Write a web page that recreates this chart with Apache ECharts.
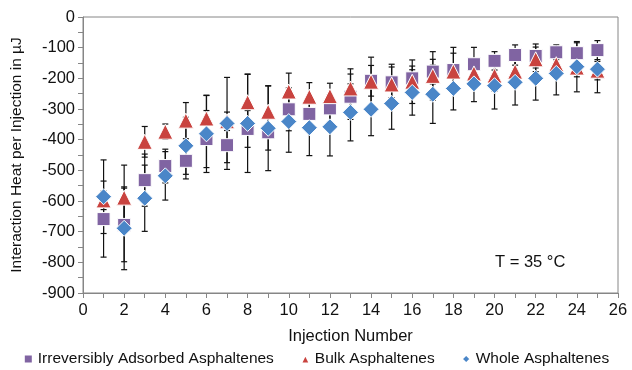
<!DOCTYPE html>
<html>
<head>
<meta charset="utf-8">
<script src="https://cdn.jsdelivr.net/npm/echarts@6/dist/echarts.min.js"></script>
<style>
  html, body { margin: 0; padding: 0; background: #fff; }
  #chart { width: 632px; height: 370px; }
</style>
</head>
<body>
<div id="chart"></div>
<script>
// injection numbers
const injections = [1, 2, 3, 4, 5, 6, 7, 8, 9, 10, 11, 12, 13, 14, 15, 16, 17, 18, 19, 20, 21, 22, 23, 24, 25];

// heat per injection, µJ
const irreversible = [-659, -678, -532, -486, -469, -398, -418, -365, -376, -301, -316, -298, -260, -208, -213, -200, -178, -173, -154, -143, -124, -127, -115, -118, -108];
const bulk = [-598, -589, -407, -374, -338, -331, -340, -278, -309, -243, -260, -258, -233, -211, -220, -211, -192, -178, -184, -191, -178, -138, -154, -165, -175];
const whole = [-586, -689, -591, -518, -420, -381, -347, -347, -363, -341, -361, -358, -311, -301, -282, -246, -252, -233, -218, -224, -213, -200, -184, -162, -170];

// error bar half widths
const irreversibleErr = [124, 120, 85, 55, 59, 93, 57, 60, 58, 70, 50, 45, 74, 50, 50, 40, 40, 74, 55, 30, 33, 39, 24, 34, 31];
const bulkErr = [30, 106, 50, 25, 59, 75, 30, 92, 85, 60, 46, 42, 64, 80, 66, 71, 79, 60, 40, 50, 40, 40, 40, 30, 30];
const wholeErr = [120, 135, 108, 79, 93, 126, 150, 160, 138, 100, 91, 95, 93, 86, 84, 74, 95, 70, 58, 76, 74, 71, 70, 82, 77];

const xTicks = [0, 2, 4, 6, 8, 10, 12, 14, 16, 18, 20, 22, 24, 26];
const yTicks = [0, -100, -200, -300, -400, -500, -600, -700, -800, -900];

const FONT = '"Liberation Sans", Arial, sans-serif';
const AXIS_GREY = '#868686';

function points(values) {
    return injections.map((x, i) => [x, values[i]]);
}

function errorData(values, errs) {
    return injections.map((x, i) => [x, values[i] - errs[i], values[i] + errs[i]]);
}

function errorSeries(values, errs) {
    return {
        type: 'custom',
        silent: true,
        z: 1,
        data: errorData(values, errs),
        renderItem: (params, api) => {
            const top = api.coord([api.value(0), api.value(2)]);
            const bottom = api.coord([api.value(0), api.value(1)]);
            const cap = 3;
            const style = { stroke: '#111', lineWidth: 1.2 };
            return {
                type: 'group',
                children: [
                    { type: 'line', shape: { x1: top[0], y1: top[1], x2: bottom[0], y2: bottom[1] }, style },
                    { type: 'line', shape: { x1: top[0] - cap, y1: top[1], x2: top[0] + cap, y2: top[1] }, style },
                    { type: 'line', shape: { x1: bottom[0] - cap, y1: bottom[1], x2: bottom[0] + cap, y2: bottom[1] }, style }
                ]
            };
        }
    };
}

const chart = echarts.init(document.getElementById('chart'), null, { renderer: 'canvas' });

const option = {
    animation: false,
    textStyle: { fontFamily: FONT },
    grid: {
        left: 83, right: 14, top: 17, bottom: 77,
        show: true, borderColor: AXIS_GREY, borderWidth: 1
    },
    xAxis: {
        type: 'value',
        min: xTicks[0],
        max: xTicks[xTicks.length - 1],
        interval: 2,
        name: 'Injection Number',
        nameLocation: 'middle',
        nameGap: 35,
        nameTextStyle: { fontSize: 16.5, color: '#111', fontFamily: FONT },
        axisLine: { onZero: false, lineStyle: { color: AXIS_GREY, width: 1 } },
        axisTick: { show: true, length: 5, lineStyle: { color: AXIS_GREY } },
        minorTick: { show: true, splitNumber: 2, length: 5, lineStyle: { color: AXIS_GREY } },
        axisLabel: { fontSize: 16.5, color: '#111', margin: 9, fontFamily: FONT },
        splitLine: { show: false }
    },
    yAxis: {
        type: 'value',
        min: yTicks[yTicks.length - 1],
        max: yTicks[0],
        interval: 100,
        name: 'Interaction Heat per Injection in µJ',
        nameLocation: 'middle',
        nameGap: 58,
        nameTextStyle: { fontSize: 15.5, color: '#111', fontFamily: FONT },
        axisLine: { show: true, lineStyle: { color: AXIS_GREY, width: 1 } },
        axisTick: { show: true, length: 5, lineStyle: { color: AXIS_GREY } },
        minorTick: { show: true, splitNumber: 2, length: 5, lineStyle: { color: AXIS_GREY } },
        axisLabel: { fontSize: 16.5, color: '#111', margin: 8, fontFamily: FONT },
        splitLine: { show: false }
    },
    legend: {
        data: [
            { name: 'Irreversibly Adsorbed Asphaltenes', icon: 'rect' },
            { name: 'Bulk Asphaltenes', icon: 'triangle' },
            { name: 'Whole Asphaltenes', icon: 'diamond' }
        ],
        top: 351,
        left: 'center',
        padding: 0,
        itemWidth: 9,
        itemHeight: 9,
        itemGap: 26,
        textStyle: { fontSize: 15.5, color: '#111', fontFamily: FONT }
    },
    graphic: [{
        type: 'text',
        left: 495,
        top: 254,
        style: { text: 'T = 35 °C', font: '16.5px "Liberation Sans", Arial, sans-serif', fill: '#111' }
    }],
    series: [
        errorSeries(irreversible, irreversibleErr),
        errorSeries(bulk, bulkErr),
        errorSeries(whole, wholeErr),
        {
            name: 'Irreversibly Adsorbed Asphaltenes',
            type: 'scatter',
            symbol: 'rect',
            symbolSize: 13,
            z: 3,
            itemStyle: { color: '#8064a2', opacity: 1, borderColor: '#fff', borderWidth: 1 },
            data: points(irreversible)
        },
        {
            name: 'Bulk Asphaltenes',
            type: 'scatter',
            symbol: 'triangle',
            symbolSize: 15,
            z: 4,
            itemStyle: { color: '#c9433f', opacity: 1, borderColor: '#fff', borderWidth: 1 },
            data: points(bulk)
        },
        {
            name: 'Whole Asphaltenes',
            type: 'scatter',
            symbol: 'diamond',
            symbolSize: 16,
            z: 5,
            itemStyle: { color: '#4a86c8', opacity: 1, borderColor: '#fff', borderWidth: 1 },
            data: points(whole)
        }
    ]
};

chart.setOption(option);
</script>
</body>
</html>
